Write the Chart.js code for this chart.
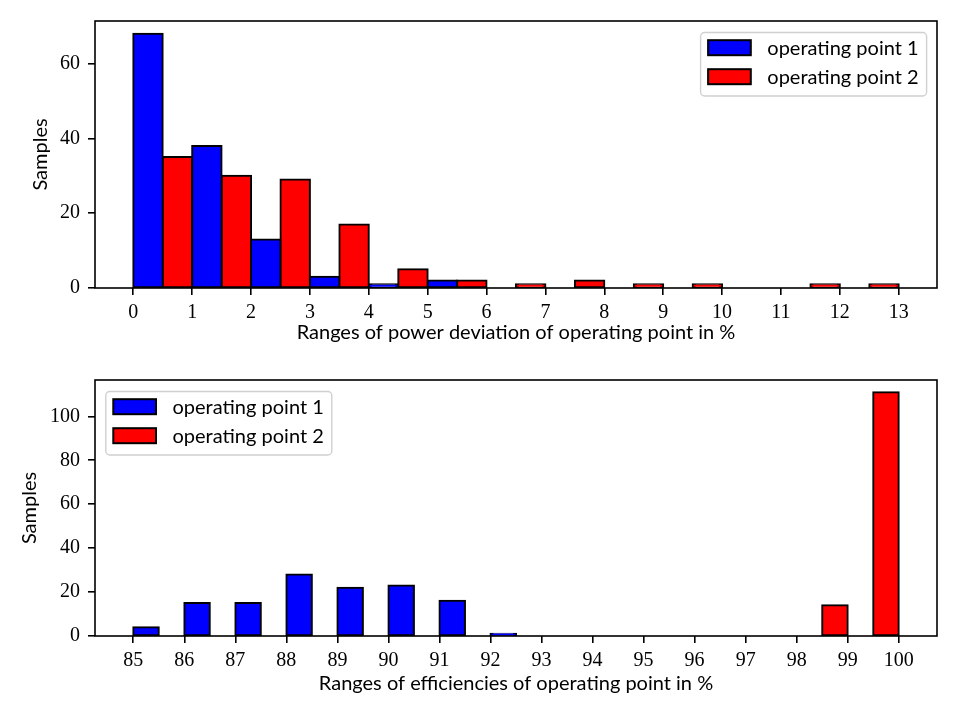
<!DOCTYPE html>
<html>
<head>
<meta charset="utf-8">
<script src="https://cdn.jsdelivr.net/npm/chart.js@4.4.0/dist/chart.umd.min.js"></script>
<style>
  body { margin: 0; background: #fff; }
  canvas { display: block; }
</style>
</head>
<body>
<canvas id="powerChart" width="960" height="360"></canvas>
<canvas id="effChart" width="960" height="360"></canvas>
<script>
const seriesNames = ["operating point 1", "operating point 2"];

// power deviation histogram, 1 % bins starting at the value given
const powerBins = [0, 1, 2, 3, 4, 5, 6, 7, 8, 9, 10, 11, 12];
const powerOp1 = [68, 38, 13, 3, 1, 2, 0, 0, 0, 0, 0, 0, 0];
const powerOp2 = [35, 30, 29, 17, 5, 2, 1, 2, 1, 1, 0, 1, 1];
const powerXTicks = [0, 1, 2, 3, 4, 5, 6, 7, 8, 9, 10, 11, 12, 13];
const powerYTicks = [0, 20, 40, 60];

// efficiency histogram
const effBins = [85, 86, 87, 88, 89, 90, 91, 92, 93, 94, 95, 96, 97, 98, 99];
const effOp1 = [4, 15, 15, 28, 22, 23, 16, 1, 0, 0, 0, 0, 0, 0, 0];
const effOp2 = [0, 0, 0, 0, 0, 0, 0, 0, 0, 0, 0, 0, 0, 14, 111];
const effXTicks = [85, 86, 87, 88, 89, 90, 91, 92, 93, 94, 95, 96, 97, 98, 99, 100];
const effYTicks = [0, 20, 40, 60, 80, 100];

const SANS = "Lato";
const SERIF = "'Liberation Serif'";

Chart.defaults.color = "#000";
Chart.defaults.animation = false;

// full box around the plot area, like matplotlib spines
const axesFrame = {
  id: "axesFrame",
  afterDatasetsDraw(chart) {
    const { ctx, chartArea: a } = chart;
    ctx.save();
    ctx.strokeStyle = "#000";
    ctx.lineWidth = 1.6;
    ctx.strokeRect(a.left, a.top, a.right - a.left, a.bottom - a.top);
    ctx.restore();
  }
};

// boxed legend drawn inside the axes
const mplLegend = {
  id: "mplLegend",
  afterDraw(chart, args, opts) {
    const { ctx, chartArea: a } = chart;
    const pad = 7.5, handle = 42.7, patchH = 15, gap = 16.5, rowH = 29;
    ctx.save();
    ctx.font = `20px ${SANS}`;
    const sets = chart.data.datasets;
    const tw = Math.max(...sets.map(d => ctx.measureText(d.label).width));
    const w = pad + handle + gap + tw + 8;
    const h = 63.5;
    const x = opts.corner === "right" ? a.right - 10.4 - w : a.left + 10.8;
    const y = a.top + 11.5;
    ctx.beginPath();
    ctx.roundRect(x, y, w, h, 4);
    ctx.fillStyle = "rgba(255,255,255,0.8)";
    ctx.fill();
    ctx.strokeStyle = "#d0d0d0";
    ctx.lineWidth = 1.4;
    ctx.stroke();
    sets.forEach((d, i) => {
      const py = y + 7.7 + i * rowH;
      ctx.fillStyle = d.backgroundColor;
      ctx.fillRect(x + pad, py, handle, patchH);
      ctx.strokeStyle = "#000";
      ctx.lineWidth = 2;
      ctx.strokeRect(x + pad, py, handle, patchH);
      ctx.fillStyle = "#000";
      ctx.textBaseline = "middle";
      ctx.fillText(d.label, x + pad + handle + gap, py + patchH / 2 + 1);
    });
    ctx.restore();
  }
};

function histChart(id, bins, op1, op2, xTicks, yTicks, xTitle, o) {
  const lo = bins[0], hi = bins[bins.length - 1] + 1;
  const m = (hi - lo) * 0.05;
  const ymax = Math.max(...op1, ...op2) * 1.05;
  const bar = (label, vals, color) => ({
    label,
    data: bins.map((b, i) => ({ x: b + 0.5, y: vals[i] })),
    backgroundColor: color,
    borderColor: "#000",
    borderWidth: 2,
    inflateAmount: 1,
    borderSkipped: false,
    categoryPercentage: 1,
    barPercentage: 1
  });
  const tickGrid = { display: true, drawOnChartArea: false, drawTicks: true, tickLength: 7, color: "#000", lineWidth: 1.6, offset: false };
  return new Chart(document.getElementById(id), {
    type: "bar",
    data: {
      datasets: [bar(seriesNames[0], op1, "#0000ff"), bar(seriesNames[1], op2, "#ff0000")]
    },
    plugins: [axesFrame, mplLegend],
    options: {
      responsive: false,
      events: [],
      layout: { padding: { left: 0, right: 23, top: o.top, bottom: 0 } },
      plugins: {
        legend: { display: false },
        tooltip: { enabled: false },
        mplLegend: { corner: o.corner }
      },
      scales: {
        x: {
          type: "linear",
          offset: false,
          min: lo - m,
          max: hi + m,
          grid: tickGrid,
          border: { display: false },
          afterBuildTicks: s => { s.ticks = xTicks.map(v => ({ value: v })); },
          afterFit: s => { s.height = o.xh; },
          ticks: { autoSkip: false, maxRotation: 0, padding: 6, font: { family: SERIF, size: 20 } },
          title: { display: true, text: xTitle, font: { family: SANS, size: 20 }, padding: { top: 0, bottom: o.xtp } }
        },
        y: {
          min: 0,
          max: ymax,
          grid: tickGrid,
          border: { display: false },
          afterBuildTicks: s => { s.ticks = yTicks.map(v => ({ value: v })); },
          afterFit: s => { s.width = 95; },
          ticks: { padding: 8, font: { family: SERIF, size: 20 } },
          title: { display: true, text: "Samples", font: { family: SANS, size: 20 }, padding: { top: o.ytp, bottom: 0 } }
        }
      }
    }
  });
}

histChart("powerChart", powerBins, powerOp1, powerOp2, powerXTicks, powerYTicks,
  "Ranges of power deviation of operating point in %",
  { top: 21, xh: 72, xtp: 15, ytp: 28.6, corner: "right" });

histChart("effChart", effBins, effOp1, effOp2, effXTicks, effYTicks,
  "Ranges of efficiencies of operating point in %",
  { top: 11, xh: 84, xtp: 24, ytp: 18, corner: "left" });
</script>
</body>
</html>
